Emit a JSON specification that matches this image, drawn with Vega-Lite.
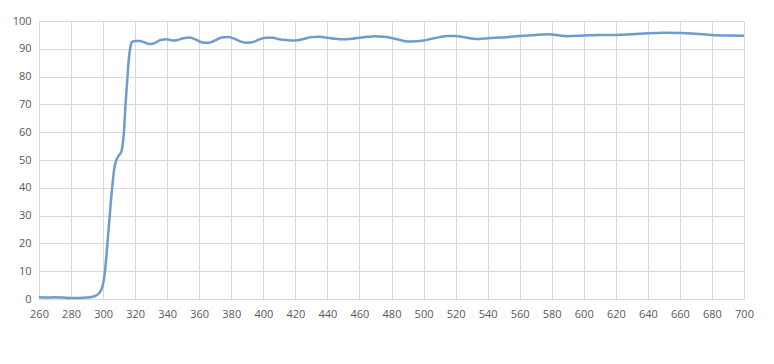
{
  "$schema": "https://vega.github.io/schema/vega-lite/v6.json",
  "width": 705,
  "height": 278,
  "autosize": {"type": "none"},
  "padding": {"left": 39, "top": 21, "right": 30, "bottom": 65},
  "background": "white",
  "config": {"view": {"stroke": null}},
  "data": {"values": [
    {"nm":260,"v":0.6},{"nm":265,"v":0.5},{"nm":270,"v":0.6},{"nm":275,"v":0.5},{"nm":280,"v":0.4},
    {"nm":285,"v":0.4},{"nm":290,"v":0.5},{"nm":294,"v":0.9},{"nm":297,"v":1.8},{"nm":299,"v":3.5},
    {"nm":300,"v":5.5},{"nm":301,"v":9},{"nm":302,"v":15},{"nm":303,"v":22},{"nm":304,"v":29},
    {"nm":305,"v":36},{"nm":306,"v":42},{"nm":307,"v":47},{"nm":308,"v":49.5},{"nm":309,"v":50.8},
    {"nm":310,"v":51.8},{"nm":311,"v":52.5},{"nm":312,"v":54.5},{"nm":313,"v":60},{"nm":314,"v":70},
    {"nm":315,"v":78},{"nm":316,"v":86},{"nm":317,"v":90.5},{"nm":318,"v":92.4},{"nm":320,"v":92.8},
    {"nm":323,"v":92.8},{"nm":325,"v":92.5},{"nm":328,"v":91.8},{"nm":330,"v":91.7},{"nm":333,"v":92.3},
    {"nm":336,"v":93.2},{"nm":340,"v":93.4},{"nm":343,"v":93},{"nm":346,"v":93.1},{"nm":350,"v":93.8},
    {"nm":354,"v":94.1},{"nm":358,"v":93.3},{"nm":362,"v":92.3},{"nm":366,"v":92.2},{"nm":370,"v":93},
    {"nm":374,"v":94.1},{"nm":378,"v":94.2},{"nm":382,"v":93.6},{"nm":386,"v":92.6},{"nm":390,"v":92.2},
    {"nm":394,"v":92.5},{"nm":398,"v":93.5},{"nm":402,"v":94},{"nm":406,"v":94},{"nm":410,"v":93.4},
    {"nm":415,"v":93.1},{"nm":420,"v":93},{"nm":425,"v":93.5},{"nm":430,"v":94.2},{"nm":435,"v":94.3},
    {"nm":440,"v":94},{"nm":445,"v":93.6},{"nm":450,"v":93.4},{"nm":455,"v":93.6},{"nm":460,"v":94},
    {"nm":465,"v":94.3},{"nm":470,"v":94.5},{"nm":475,"v":94.3},{"nm":480,"v":93.9},{"nm":485,"v":93.2},
    {"nm":490,"v":92.6},{"nm":495,"v":92.7},{"nm":500,"v":93},{"nm":505,"v":93.6},{"nm":510,"v":94.2},
    {"nm":515,"v":94.6},{"nm":520,"v":94.6},{"nm":525,"v":94.2},{"nm":530,"v":93.7},{"nm":535,"v":93.5},
    {"nm":540,"v":93.8},{"nm":545,"v":94},{"nm":550,"v":94.1},{"nm":560,"v":94.6},{"nm":570,"v":95.0},
    {"nm":578,"v":95.2},{"nm":585,"v":94.8},{"nm":590,"v":94.5},{"nm":600,"v":94.8},{"nm":610,"v":95.0},
    {"nm":620,"v":95.0},{"nm":630,"v":95.2},{"nm":640,"v":95.6},{"nm":650,"v":95.8},{"nm":660,"v":95.7},
    {"nm":670,"v":95.4},{"nm":680,"v":95.0},{"nm":690,"v":94.8},{"nm":700,"v":94.7}
  ]},
  "mark": {"type": "line", "interpolate": "monotone", "color": "#6f9ccb", "strokeWidth": 2.5},
  "encoding": {
    "x": {
      "field": "nm", "type": "quantitative",
      "scale": {"domain": [260, 700], "nice": false, "zero": false},
      "axis": {
        "title": null, "values": [260,280,300,320,340,360,380,400,420,440,460,480,500,520,540,560,580,600,620,640,660,680,700],
        "grid": true, "gridColor": "#d9d9d9", "gridWidth": 1,
        "domain": true, "domainColor": "#d9d9d9", "ticks": false,
        "labelFont": "Open Sans", "labelFontSize": 11, "labelColor": "#595959",
        "labelPadding": 9, "labelFlush": false
      }
    },
    "y": {
      "field": "v", "type": "quantitative",
      "scale": {"domain": [0, 100], "nice": false},
      "axis": {
        "title": null, "values": [0,10,20,30,40,50,60,70,80,90,100],
        "grid": true, "gridColor": "#d9d9d9", "gridWidth": 1,
        "domain": false, "ticks": false,
        "labelFont": "Open Sans", "labelFontSize": 11, "labelColor": "#595959",
        "labelPadding": 8
      }
    }
  }
}
